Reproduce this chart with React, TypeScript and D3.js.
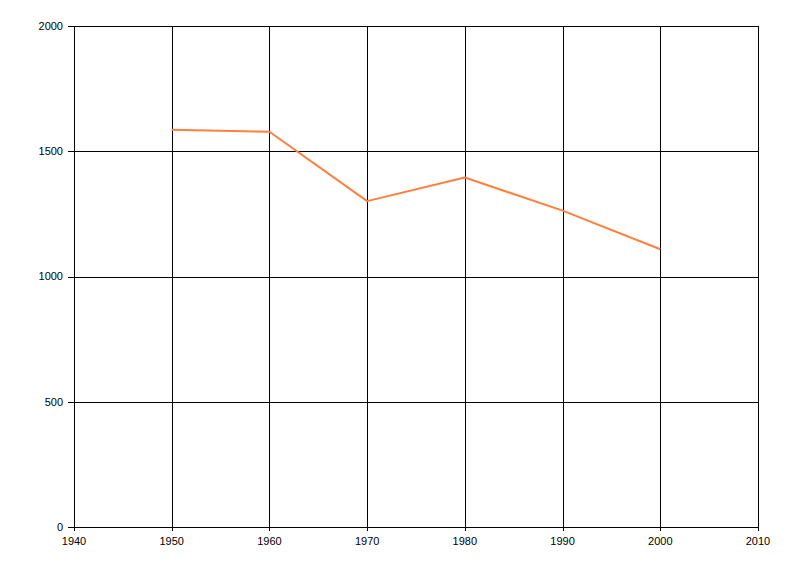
import React from 'react';
import * as d3 from 'd3';

// data
const years = [1950, 1960, 1970, 1980, 1990, 2000];
const values = [1586, 1578, 1301, 1395, 1263, 1109];
const xTicks = [1940, 1950, 1960, 1970, 1980, 1990, 2000, 2010];
const yTicks = [0, 500, 1000, 1500, 2000];

const WIDTH = 800;
const HEIGHT = 576;
const margin = { top: 26, right: 42, bottom: 49, left: 74 };
const FONT = '"Liberation Sans", Arial, sans-serif';

export default function App() {
  const innerWidth = WIDTH - margin.left - margin.right;
  const innerHeight = HEIGHT - margin.top - margin.bottom;

  const xScale = d3.scaleLinear().domain([1940, 2010]).range([0, innerWidth]);
  const yScale = d3.scaleLinear().domain([0, 2000]).range([innerHeight, 0]);

  const points = years.map((y, i) => ({ year: y, value: values[i] }));
  const line = d3.line<{ year: number; value: number }>()
    .x(d => xScale(d.year))
    .y(d => yScale(d.value));

  return (
    <svg
      width={WIDTH}
      height={HEIGHT}
      style={{ position: 'absolute', left: 0, top: 0, background: '#fff' }}
      shapeRendering="crispEdges"
    >
      <g transform={`translate(${margin.left}, ${margin.top})`}>
        {/* vertical grid lines */}
        {xTicks.map(t => (
          <line key={`vx${t}`} x1={Math.round(xScale(t)) + 0.5} x2={Math.round(xScale(t)) + 0.5}
            y1={0} y2={innerHeight + 4} stroke="#000" strokeWidth={1} />
        ))}
        {/* horizontal grid lines */}
        {yTicks.map(t => (
          <line key={`hy${t}`} x1={-6} x2={innerWidth}
            y1={Math.round(yScale(t)) + 0.5} y2={Math.round(yScale(t)) + 0.5}
            stroke="#000" strokeWidth={1} />
        ))}

        {/* y tick labels */}
        {yTicks.map(t => (
          <text key={`yl${t}`} x={-11} y={yScale(t)} dy="0.35em" textAnchor="end"
            fontFamily={FONT} fontSize={11} fill="#000">{t}</text>
        ))}
        {/* x tick labels */}
        {xTicks.map(t => (
          <text key={`xl${t}`} x={xScale(t)} y={innerHeight + 18} textAnchor="middle"
            fontFamily={FONT} fontSize={11} fill="#000">{t}</text>
        ))}

        {/* series */}
        <path d={line(points) ?? ''} fill="none" stroke="#FF7F3F" strokeWidth={2}
          strokeLinejoin="round" shapeRendering="auto" />
      </g>
    </svg>
  );
}
